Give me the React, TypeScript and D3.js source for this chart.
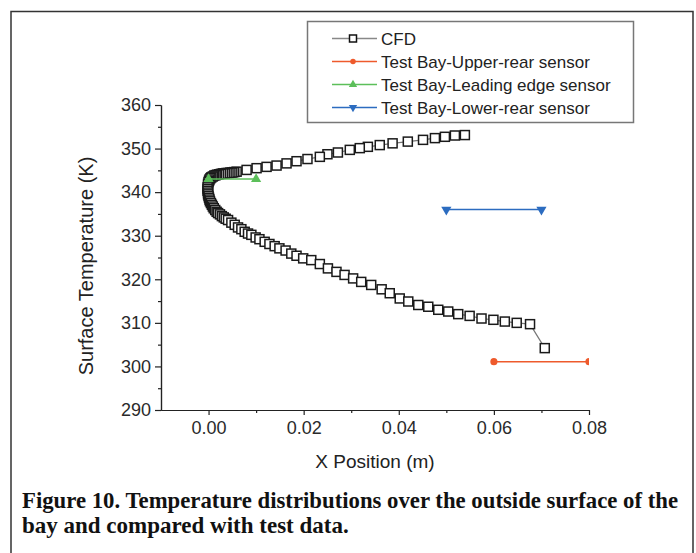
import { useEffect, useRef } from "react";
import * as d3 from "d3";

// CFD profile: upper branch (right -> nose), dense nose band, then lower branch (nose -> right)
const cfdX = [
  0.0539, 0.0518, 0.0497, 0.0476, 0.0451, 0.0419, 0.0387, 0.036, 0.0335, 0.0318,
  0.0297, 0.0272, 0.025, 0.0234, 0.0208, 0.0185, 0.0164, 0.0143, 0.0122, 0.0101,
  0.008, 0.0059, 0.0054, 0.005, 0.0046, 0.0042, 0.0038, 0.0034, 0.003, 0.0026,
  0.0022, 0.0018, 0.0015, 0.0012, 0.0009, 0.0006, 0.0004, 0.0002, 0.0001, 0.0,
  -0.0001, -0.0001, -0.0002, -0.0002, -0.0002, -0.0001, -0.0001, 0.0, 0.0001, 0.0002,
  0.0003, 0.0005, 0.0007, 0.0009, 0.0011, 0.0014, 0.0017, 0.002, 0.0024, 0.0028,
  0.0032, 0.0036, 0.0041, 0.0048, 0.0055, 0.0062, 0.0069, 0.0076, 0.0083, 0.009,
  0.0099, 0.0107, 0.0118, 0.0128, 0.0139, 0.0149, 0.0162, 0.0174, 0.0185, 0.0199,
  0.0216, 0.0234, 0.0251, 0.0269, 0.0286, 0.0304, 0.0321, 0.0342, 0.0364, 0.0381,
  0.0402, 0.042, 0.0441, 0.0462, 0.0483, 0.0504, 0.0525, 0.0549, 0.0574, 0.0599,
  0.0623, 0.0648, 0.0676, 0.0707,
];
const cfdT = [
  353.1, 353.0, 352.7, 352.4, 352.0, 351.6, 351.2, 350.8, 350.4, 350.1,
  349.7, 349.1, 348.7, 348.1, 347.6, 347.1, 346.6, 346.1, 345.8, 345.5,
  345.1, 344.7, 344.6, 344.5, 344.5, 344.4, 344.4, 344.3, 344.3, 344.2,
  344.1, 344.0, 343.9, 343.8, 343.6, 343.4, 343.2, 342.9, 342.6, 342.3,
  341.9, 341.5, 341.1, 340.7, 340.3, 339.9, 339.5, 339.1, 338.7, 338.3,
  337.9, 337.5, 337.1, 336.7, 336.3, 335.9, 335.5, 335.2, 334.9, 334.5,
  334.2, 333.9, 333.6, 333.0, 332.5, 331.9, 331.5, 330.9, 330.5, 330.2,
  329.6, 329.2, 328.6, 328.1, 327.6, 327.1, 326.6, 325.9, 325.4, 324.8,
  324.4, 323.5, 322.5, 321.7, 321.0, 320.2, 319.4, 318.7, 317.7, 316.8,
  315.6, 314.9, 314.1, 313.7, 313.0, 312.6, 312.0, 311.6, 311.0, 310.7,
  310.3, 310.0, 309.7, 304.2,
];

const upperRearX = [0.06, 0.08];
const upperRearT = [301.1, 301.1];
const leadingX = [0.0, 0.01];
const leadingT = [343.0, 343.0];
const lowerRearX = [0.05, 0.07];
const lowerRearT = [336.0, 336.0];

const xTicks = [0, 0.02, 0.04, 0.06, 0.08];
const xMinor = [0.01, 0.03, 0.05, 0.07];
const yTicks = [290, 300, 310, 320, 330, 340, 350, 360];
const yMinor = [295, 305, 315, 325, 335, 345, 355];

const legendLabels = [
  "CFD",
  "Test Bay-Upper-rear sensor",
  "Test Bay-Leading edge sensor",
  "Test Bay-Lower-rear sensor",
];
const captionLines = [
  "Figure 10. Temperature distributions over the outside surface of the",
  "bay and compared with test data.",
];

const W = 696, H = 553;
const SANS = "'Liberation Sans', Arial, sans-serif";

export default function App() {
  const svgRef = useRef<SVGSVGElement>(null);

  useEffect(() => {
    const svg = d3.select(svgRef.current);
    svg.selectAll("*").remove();

    const x = d3.scaleLinear().domain([-0.01, 0.08]).range([161, 589]);
    const y = d3.scaleLinear().domain([290, 360]).range([410, 105]);

    // outer frame
    svg.append("path")
      .attr("d", `M11,${H + 2} L11,11.5 L693,11.5 L693,${H + 2}`)
      .attr("fill", "none").attr("stroke", "#333").attr("stroke-width", 1.5);

    const styleAxis = (g: any) => {
      g.select(".domain").attr("stroke", "#222").attr("stroke-width", 1.2);
      g.selectAll(".tick line").attr("stroke", "#222").attr("stroke-width", 1.2);
      g.selectAll(".tick text").attr("fill", "#2a2a2a")
        .style("font-family", SANS).style("font-size", "18px");
    };

    // minor ticks
    svg.append("g").attr("transform", "translate(0,410)")
      .call(d3.axisBottom(x).tickValues(xMinor).tickSize(3).tickFormat(() => "").tickSizeOuter(0))
      .call(styleAxis);
    svg.append("g").attr("transform", "translate(161,0)")
      .call(d3.axisLeft(y).tickValues(yMinor).tickSize(3).tickFormat(() => "").tickSizeOuter(0))
      .call(styleAxis);

    svg.append("g").attr("transform", "translate(0,410)")
      .call(d3.axisBottom(x).tickValues(xTicks).tickSize(5).tickPadding(6)
        .tickFormat(d3.format(".2f")).tickSizeOuter(0))
      .call(styleAxis);
    svg.append("g").attr("transform", "translate(161,0)")
      .call(d3.axisLeft(y).tickValues(yTicks).tickSize(6).tickPadding(4)
        .tickFormat(d3.format("d")).tickSizeOuter(0))
      .call(styleAxis);

    // axis titles
    svg.append("text").attr("x", 375).attr("y", 468).attr("text-anchor", "middle")
      .style("font-family", SANS).style("font-size", "19px").attr("fill", "#222")
      .text("X Position (m)");
    svg.append("text").attr("transform", "translate(93,266) rotate(-90)")
      .attr("text-anchor", "middle")
      .style("font-family", SANS).style("font-size", "20px").attr("fill", "#222")
      .text("Surface Temperature (K)");

    // plot clip
    svg.append("clipPath").attr("id", "plotclip")
      .append("rect").attr("x", 161).attr("y", 95).attr("width", 428).attr("height", 320);
    const plot = svg.append("g").attr("clip-path", "url(#plotclip)");

    const cfd = cfdX.map((v, i) => [v, cfdT[i]] as [number, number]);
    const line = d3.line<[number, number]>().x(d => x(d[0])).y(d => y(d[1]));

    plot.append("path").datum(cfd).attr("d", line)
      .attr("fill", "none").attr("stroke", "#777").attr("stroke-width", 1.2);
    plot.selectAll("rect.cfd").data(cfd).join("rect").attr("class", "cfd")
      .attr("x", d => x(d[0]) - 4.5).attr("y", d => y(d[1]) - 4.5)
      .attr("width", 9).attr("height", 9)
      .attr("fill", "#fff").attr("stroke", "#1a1a1a").attr("stroke-width", 1.5);

    const sensors = [
      { xs: upperRearX, ts: upperRearT, color: "#ee5a2c", sym: d3.symbolCircle, size: 40, rot: 0 },
      { xs: leadingX, ts: leadingT, color: "#5cbf5a", sym: d3.symbolTriangle, size: 45, rot: 0 },
      { xs: lowerRearX, ts: lowerRearT, color: "#2c6cc0", sym: d3.symbolTriangle, size: 45, rot: 180 },
    ];
    sensors.forEach(s => {
      const pts = s.xs.map((v, i) => [v, s.ts[i]] as [number, number]);
      plot.append("path").datum(pts).attr("d", line)
        .attr("fill", "none").attr("stroke", s.color).attr("stroke-width", 1.5);
      plot.selectAll(null).data(pts).join("path")
        .attr("d", d3.symbol().type(s.sym).size(s.size)())
        .attr("transform", d => `translate(${x(d[0])},${y(d[1])}) rotate(${s.rot})`)
        .attr("fill", s.color);
    });

    // legend
    const lg = svg.append("g");
    lg.append("rect").attr("x", 307.5).attr("y", 21.5).attr("width", 326).attr("height", 101)
      .attr("fill", "#fff").attr("stroke", "#777").attr("stroke-width", 1.5);
    const legendStyles = [
      { color: "#888", marker: "square" },
      { color: "#ee5a2c", marker: "circle" },
      { color: "#5cbf5a", marker: "up" },
      { color: "#2c6cc0", marker: "down" },
    ];
    legendLabels.forEach((lab, i) => {
      const cy = 38.5 + i * 23;
      const st = legendStyles[i];
      lg.append("line").attr("x1", 332).attr("x2", 377).attr("y1", cy).attr("y2", cy)
        .attr("stroke", st.color).attr("stroke-width", 1.5);
      if (st.marker === "square") {
        lg.append("rect").attr("x", 349.5).attr("y", cy - 3.5).attr("width", 7).attr("height", 7)
          .attr("fill", "#fff").attr("stroke", "#111").attr("stroke-width", 1.5);
      } else {
        const type = st.marker === "circle" ? d3.symbolCircle : d3.symbolTriangle;
        lg.append("path").attr("d", d3.symbol().type(type).size(st.marker === "circle" ? 24 : 30)())
          .attr("transform", `translate(353,${cy}) rotate(${st.marker === "down" ? 180 : 0})`)
          .attr("fill", st.color);
      }
      lg.append("text").attr("x", 381).attr("y", cy).attr("dy", "0.36em")
        .style("font-family", SANS).style("font-size", "17px").attr("fill", "#222")
        .text(lab);
    });

    // caption
    captionLines.forEach((t, i) => {
      const tx = svg.append("text").attr("x", 22).attr("y", 508 + i * 25)
        .style("font-family", "'Liberation Serif', 'Times New Roman', serif")
        .style("font-size", "23px").style("font-weight", "bold").attr("fill", "#111")
        .text(t);
      if (i === 0) tx.attr("textLength", 656).attr("lengthAdjust", "spacingAndGlyphs");
    });
  }, []);

  return (
    <svg ref={svgRef} width={W} height={H} viewBox={`0 0 ${W} ${H}`}
      style={{ position: "absolute", left: 0, top: 0, background: "#fff" }} />
  );
}
